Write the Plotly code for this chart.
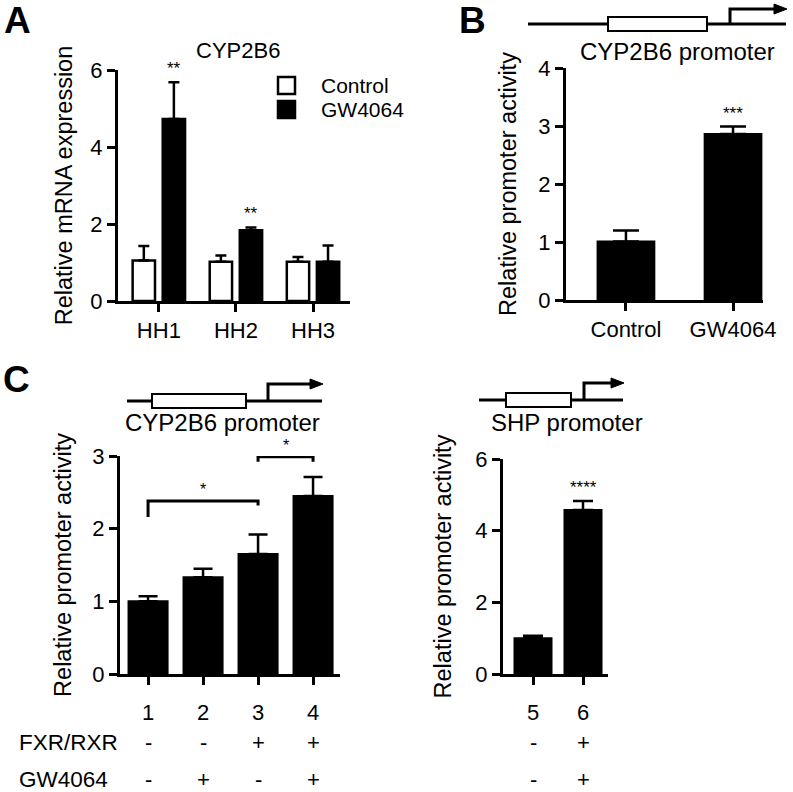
import plotly.graph_objects as go

W, H = 793, 792
FONT = "Liberation Sans, Arial, sans-serif"

# ===== panel A: CYP2B6 mRNA in hepatocytes =====
hh_groups = ["HH1", "HH2", "HH3"]
a_series = ["Control", "GW4064"]
a_ctrl = [1.05, 1.02, 1.02]
a_ctrl_err = [0.38, 0.16, 0.12]
a_gw = [4.73, 1.84, 1.02]
a_gw_err = [0.95, 0.07, 0.42]
a_stars = ["**", "**", ""]

# ===== panel B: CYP2B6 promoter =====
b_groups = ["Control", "GW4064"]
b_vals = [1.01, 2.86]
b_err = [0.19, 0.13]
b_stars = ["", "***"]

# ===== panel C left: CYP2B6 promoter + FXR/RXR =====
c_lanes = ["1", "2", "3", "4"]
c_vals = [1.0, 1.33, 1.65, 2.45]
c_err = [0.07, 0.12, 0.27, 0.26]
c_fxr = ["-", "-", "+", "+"]
c_gw = ["-", "+", "-", "+"]
# (from lane, to lane, bar height, left leg end, right leg end, label)
c_brackets = [(0, 2, 2.38, 2.16, 2.32, "*"), (2, 3, 2.99, 2.92, 2.92, "*")]

# ===== panel C right: SHP promoter =====
d_lanes = ["5", "6"]
d_vals = [1.0, 4.58]
d_err = [0.07, 0.25]
d_fxr = ["-", "+"]
d_gw = ["-", "+"]
d_stars = ["", "****"]


def px(x):
    return x / W


def py(y):
    return 1 - y / H


def err(arr, w=5.5):
    return dict(type="data", array=arr, arrayminus=[0] * len(arr), symmetric=False,
                color="black", thickness=2.5, width=w)


fig = go.Figure()

# --- A
xa = list(range(len(hh_groups)))
fig.add_trace(go.Bar(x=xa, y=a_ctrl, name=a_series[0], width=0.29, offset=-0.34,
                     marker=dict(color="white", line=dict(color="black", width=2.5)),
                     error_y=err(a_ctrl_err), xaxis="x", yaxis="y"))
fig.add_trace(go.Bar(x=xa, y=a_gw, name=a_series[1], width=0.29, offset=0.05,
                     marker=dict(color="black", line=dict(color="black", width=2.5)),
                     error_y=err(a_gw_err), xaxis="x", yaxis="y"))

# --- B
xb = list(range(len(b_groups)))
fig.add_trace(go.Bar(x=xb, y=b_vals, width=0.53,
                     marker=dict(color="black", line=dict(color="black", width=2)),
                     error_y=err(b_err, 13), xaxis="x2", yaxis="y2"))

# --- C left
xc = list(range(len(c_lanes)))
fig.add_trace(go.Bar(x=xc, y=c_vals, width=0.71,
                     marker=dict(color="black", line=dict(color="black", width=2)),
                     error_y=err(c_err, 9.5), xaxis="x3", yaxis="y3"))

# --- C right
xd = list(range(len(d_lanes)))
fig.add_trace(go.Bar(x=xd, y=d_vals, width=0.74,
                     marker=dict(color="black", line=dict(color="black", width=2)),
                     error_y=err(d_err, 10), xaxis="x4", yaxis="y4"))

ax_style = dict(showline=True, linewidth=3, linecolor="black", ticks="outside",
                ticklen=8, tickwidth=3, tickcolor="black", showgrid=False,
                zeroline=False, automargin=False, tickfont=dict(size=22, color="black"))
title_font = dict(size=23.5, color="black")

fig.update_layout(
    width=W, height=H, margin=dict(l=0, r=0, t=0, b=0, autoexpand=False),
    paper_bgcolor="white", plot_bgcolor="white",
    font=dict(family=FONT, color="black"),
    showlegend=False, barmode="overlay",
    xaxis=dict(domain=[px(118), px(350)], anchor="y", range=[-0.53, 2.48],
               tickvals=xa, ticktext=hh_groups, **ax_style),
    yaxis=dict(domain=[py(301), py(70)], anchor="x", range=[0, 6], dtick=2,
               title=dict(text="Relative mRNA expression", font=title_font, standoff=12),
               **ax_style),
    xaxis2=dict(domain=[px(566), px(763)], anchor="y2", range=[-0.56, 1.28],
                tickvals=xb, ticktext=b_groups, **ax_style),
    yaxis2=dict(domain=[py(300), py(68)], anchor="x2", range=[0, 4], dtick=1,
                title=dict(text="Relative promoter activity", font=title_font, standoff=16),
                **ax_style),
    xaxis3=dict(domain=[px(120), px(340)], anchor="y3", range=[-0.51, 3.49],
                tickvals=xc, ticktext=c_lanes, ticklabelstandoff=9, **ax_style),
    yaxis3=dict(domain=[py(674), py(456)], anchor="x3", range=[0, 3], dtick=1,
                title=dict(text="Relative promoter activity", font=title_font, standoff=15),
                **ax_style),
    xaxis4=dict(domain=[px(503), px(608)], anchor="y4", range=[-0.6, 1.5],
                tickvals=xd, ticktext=d_lanes, ticklabelstandoff=9, **ax_style),
    yaxis4=dict(domain=[py(674), py(459)], anchor="x4", range=[0, 6], dtick=2,
                title=dict(text="Relative promoter activity", font=title_font, standoff=18),
                **ax_style),
)


def note(x, y, text, size=22, xanchor="center", xref="paper", yref="paper", **kw):
    fig.add_annotation(x=x, y=y, xref=xref, yref=yref, text=text, showarrow=False,
                       xanchor=xanchor, yanchor=kw.pop("yanchor", "middle"),
                       font=dict(size=size, color="black", family=FONT,
                                 weight=kw.pop("weight", "normal")), **kw)


# significance stars over bars
for xs, vals, errs, stars, xr, yr, off in [
    (xa, a_gw, a_gw_err, a_stars, "x", "y", 0.05 + 0.145),
    (xb, b_vals, b_err, b_stars, "x2", "y2", 0),
    (xd, d_vals, d_err, d_stars, "x4", "y4", 0),
]:
    for x, v, er, s in zip(xs, vals, errs, stars):
        if s:
            note(x + off, v + er, s, size=17, xref=xr, yref=yr, yanchor="bottom", yshift=2)

# brackets in panel C left
for x0, x1, yb, l0, l1, s in c_brackets:
    fig.add_shape(type="path", xref="x3", yref="y3",
                  path=f"M {x0},{l0} L {x0},{yb} L {x1},{yb} L {x1},{l1}",
                  line=dict(color="black", width=3))
    note((x0 + x1) / 2, yb, s, size=16, xref="x3", yref="y3", yanchor="bottom", yshift=1)

# treatment rows under panel C
for label, yrow, c_signs, d_signs in [("FXR/RXR", 742, c_fxr, d_fxr),
                                      ("GW4064", 779, c_gw, d_gw)]:
    note(px(17), py(yrow), label, size=22.5, xanchor="left")
    for x, s in zip(xc, c_signs):
        note(x, py(yrow), s, xref="x3")
    for x, s in zip(xd, d_signs):
        note(x, py(yrow), s, xref="x4")


# promoter diagrams (pixel layout)
def promoter(x0, x1, yl, bx0, bx1, ax, ytop, label, lx, ly):
    ln = dict(color="black", width=3)
    fig.add_shape(type="line", xref="paper", yref="paper", x0=px(x0), x1=px(x1),
                  y0=py(yl), y1=py(yl), line=ln)
    fig.add_shape(type="rect", xref="paper", yref="paper", x0=px(bx0), x1=px(bx1),
                  y0=py(yl - 7), y1=py(yl + 7), fillcolor="white",
                  line=dict(color="black", width=2))
    fig.add_shape(type="path", xref="paper", yref="paper",
                  path=f"M {px(ax)},{py(yl)} L {px(ax)},{py(ytop)} L {px(x1 - 10)},{py(ytop)}",
                  line=ln)
    fig.add_shape(type="path", xref="paper", yref="paper",
                  path=f"M {px(x1 - 12)},{py(ytop - 5)} L {px(x1 + 1)},{py(ytop)} "
                       f"L {px(x1 - 12)},{py(ytop + 5)} Z",
                  fillcolor="black", line=dict(color="black", width=1))
    note(px(lx), py(ly), label, size=24)


promoter(528, 786, 24, 608, 707, 730, 9, "CYP2B6 promoter", 677, 52)
promoter(127, 322, 401, 152, 246, 268, 384, "CYP2B6 promoter", 222, 422)
promoter(479, 623, 400, 506, 571, 584, 383, "SHP promoter", 567, 422)

# panel A title + legend
note(px(238), py(50), "CYP2B6", size=22)
for i, (name, fill) in enumerate(zip(a_series, ["white", "black"])):
    ytop = 77 + i * 24
    fig.add_shape(type="rect", xref="paper", yref="paper", x0=px(278), x1=px(295),
                  y0=py(ytop + 17), y1=py(ytop), fillcolor=fill,
                  line=dict(color="black", width=2.5))
    note(px(319), py(ytop + 9), name, size=21, xanchor="left")

# panel letters
for letter, lx, ly in [("A", 17, 21), ("B", 473, 21), ("C", 16, 379)]:
    note(px(lx), py(ly), letter, size=37, weight="bold")

# figure fills the window exactly (drop the default page margin)
fig.write_html("out.html", config={"displayModeBar": False},
               post_script="document.body.style.margin = '0';")
